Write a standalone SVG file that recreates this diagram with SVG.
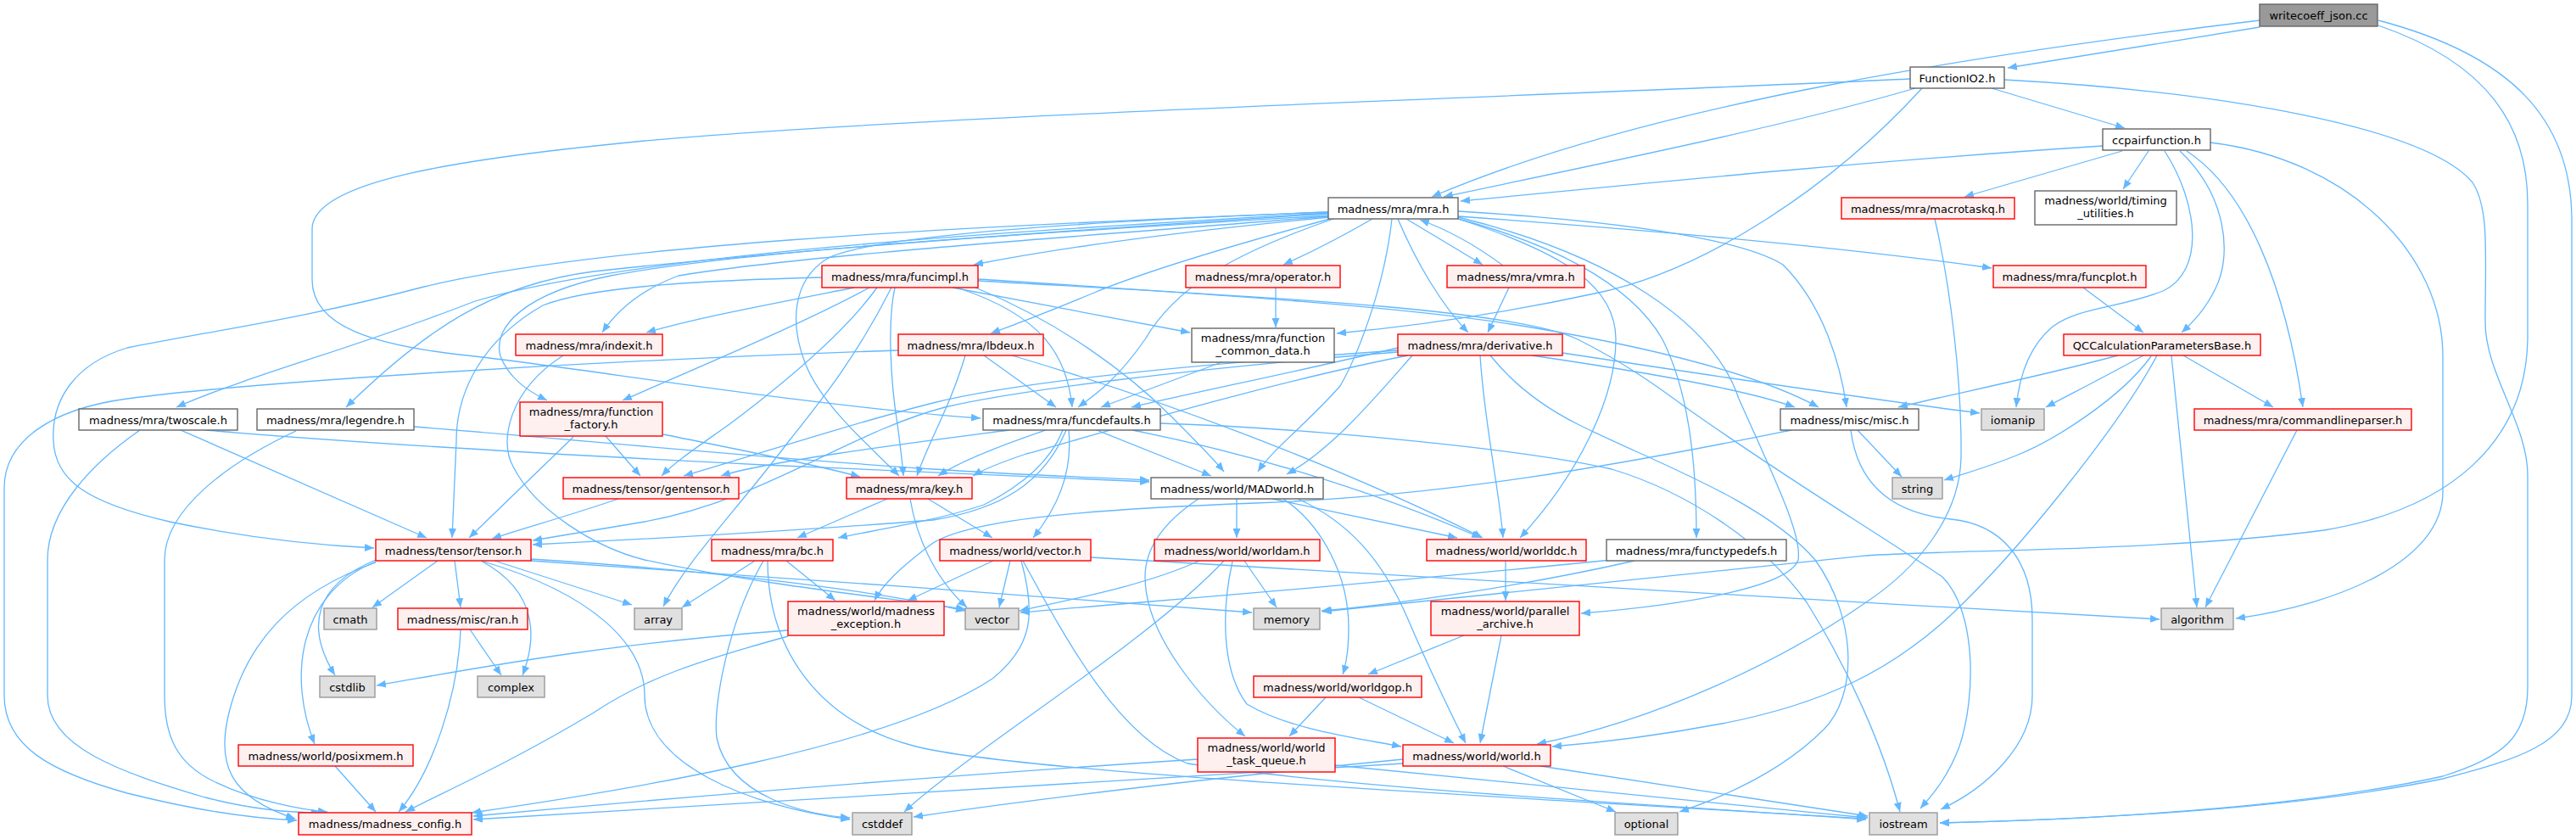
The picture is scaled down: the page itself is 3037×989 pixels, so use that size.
<svg xmlns="http://www.w3.org/2000/svg" width="3037" height="989" viewBox="0 0 3037 989">
<style>
.e{fill:none;stroke:#63b8ff;stroke-width:1.3;marker-end:url(#a)}
rect{stroke-width:1.4}
text{font-family:"DejaVu Sans",sans-serif;font-size:13px;text-anchor:middle;fill:#000}
.r rect{fill:#fff0f0;stroke:#ff0000}
.w rect{fill:#ffffff;stroke:#666666}
.g rect{fill:#e0e0e0;stroke:#999999}
.root rect{fill:#999999;stroke:#666666}
</style>
<defs>
<marker id="a" markerUnits="userSpaceOnUse" markerWidth="12" markerHeight="9" refX="11" refY="4.5" orient="auto"><path d="M0,0 L11,4.5 L0,9 z" fill="#63b8ff"/></marker>
</defs>
<rect x="0" y="0" width="3037" height="989" fill="#ffffff" stroke="none"/>
<g id="edges">
<path class="e" d="M2664,24 C2350,62 1950,120 1688,232"/>
<path class="e" d="M2664,32 L2367,80"/>
<path class="e" d="M2804,30 C2935,75 2980,150 2980,240 L2980,400 C2978,520 2890,600 2740,625 C2550,650 2300,648 2200,655 C1950,680 1700,708 1559,721"/>
<path class="e" d="M2804,24 C2960,65 3032,140 3032,260 L3032,820 C3032,875 2970,895 2880,918 C2700,955 2450,966 2287,970"/>
<path class="e" d="M2258,104 C2100,150 1900,190 1702,232"/>
<path class="e" d="M2252,93 C1900,110 1100,135 760,166 C530,188 368,215 368,270 L368,330 C368,385 440,408 560,420 C700,436 950,478 1156,493"/>
<path class="e" d="M2266,104 C2160,220 2010,320 1880,346 C1760,372 1660,385 1576,393"/>
<path class="e" d="M2348,104 L2505,151"/>
<path class="e" d="M2363,94 C2620,108 2860,150 2915,215 C2935,245 2930,300 2930,380 C2930,440 2980,500 2980,560 L2980,810 C2980,870 2950,893 2880,915 C2700,955 2450,966 2287,970"/>
<path class="e" d="M2479,172 C2200,190 1950,215 1722,237"/>
<path class="e" d="M2502,178 L2316,232"/>
<path class="e" d="M2533,178 L2503,223"/>
<path class="e" d="M2552,178 C2592,240 2600,320 2550,343 C2500,363 2450,362 2420,385 C2390,410 2380,450 2377,480"/>
<path class="e" d="M2570,178 C2625,230 2632,300 2612,340 C2600,365 2585,380 2572,392"/>
<path class="e" d="M2578,178 C2650,225 2695,340 2715,480"/>
<path class="e" d="M2606,168 C2770,188 2880,300 2880,420 L2880,580 C2880,660 2760,712 2636,729"/>
<path class="e" d="M2281,258 C2300,340 2313,450 2312,540 C2310,610 2260,670 2200,710 C2100,780 1950,850 1812,877"/>
<path class="e" d="M1568,256 C1400,272 1250,292 1148,312"/>
<path class="e" d="M1618,258 C1580,280 1540,300 1513,312"/>
<path class="e" d="M1658,258 L1748,312"/>
<path class="e" d="M1772,313 C1745,293 1710,272 1674,259"/>
<path class="e" d="M1648,258 C1670,310 1700,360 1731,392"/>
<path class="e" d="M1719,249 C1900,260 2050,280 2102,312 C2150,360 2170,430 2177,480"/>
<path class="e" d="M1719,255 C2000,275 2200,295 2348,316"/>
<path class="e" d="M1568,258 C1450,290 1350,320 1290,345 C1230,370 1190,385 1168,393"/>
<path class="e" d="M1572,258 C1450,300 1385,340 1350,400 C1315,450 1290,466 1271,480"/>
<path class="e" d="M1641,258 C1632,340 1600,420 1580,455 C1540,500 1500,530 1483,556"/>
<path class="e" d="M1719,258 C1850,300 1905,340 1905,400 C1905,470 1860,560 1792,634"/>
<path class="e" d="M1719,258 C1820,285 1920,330 1960,400 C1990,460 2000,540 2000,634"/>
<path class="e" d="M1719,256 C1900,300 2020,380 2050,470 C2090,560 2125,630 2120,660 C2110,690 2000,712 1864,723"/>
<path class="e" d="M1566,250 C1100,268 700,290 500,338 C360,375 250,390 150,410 C90,428 60,470 63,520 C65,565 100,592 200,615 C300,636 380,643 441,646"/>
<path class="e" d="M1566,251 C1150,275 750,300 560,355 C420,410 300,440 208,480"/>
<path class="e" d="M1566,252 C1200,275 900,298 700,320 C580,335 500,390 408,480"/>
<path class="e" d="M1566,254 C1200,276 880,295 720,325 C620,345 580,385 590,420 C600,445 620,460 645,472"/>
<path class="e" d="M1566,255 C1300,277 950,300 800,325 C760,340 730,362 710,392"/>
<path class="e" d="M1566,250 C1250,262 1020,280 975,305 C935,330 930,380 950,430 C970,480 1030,530 1060,561"/>
<path class="e" d="M969,327 C850,330 700,336 640,360 C570,400 538,460 538,520 L533,634"/>
<path class="e" d="M1007,339 C900,360 820,375 762,392"/>
<path class="e" d="M1025,339 C950,380 830,430 734,472"/>
<path class="e" d="M1034,339 C990,400 900,470 860,500 C825,525 795,545 780,561"/>
<path class="e" d="M1051,339 C1010,420 970,470 930,520 C870,600 810,660 782,715"/>
<path class="e" d="M1055,339 C1046,380 1050,450 1058,500 C1062,530 1064,545 1065,561"/>
<path class="e" d="M1123,339 L1403,392"/>
<path class="e" d="M1128,339 C1230,372 1258,420 1264,480"/>
<path class="e" d="M1150,339 C1250,380 1330,440 1380,490 C1410,520 1430,540 1443,556"/>
<path class="e" d="M1153,329 C1400,345 1650,360 1800,385 C1950,410 2070,440 2144,480"/>
<path class="e" d="M1153,331 C1450,348 1780,362 1860,400 C1920,430 1960,460 1990,482 C2100,560 2200,620 2290,680 C2330,720 2330,820 2310,880 C2295,920 2275,940 2264,953"/>
<path class="e" d="M1059,413 C700,425 300,450 150,470 C60,482 5,520 5,575 L5,820 C5,880 60,910 150,935 C230,955 300,965 350,967"/>
<path class="e" d="M1138,419 C1120,480 1095,520 1081,561"/>
<path class="e" d="M1160,419 L1245,480"/>
<path class="e" d="M1193,419 C1400,480 1600,560 1748,634"/>
<path class="e" d="M1440,427 L1298,480"/>
<path class="e" d="M1504,339 L1504,386"/>
<path class="e" d="M1779,339 L1754,392"/>
<path class="e" d="M2456,339 L2527,392"/>
<path class="e" d="M1648,410 C1520,440 1420,460 1334,480"/>
<path class="e" d="M1660,419 C1500,450 1300,510 1210,535 C1180,545 1160,553 1147,561"/>
<path class="e" d="M1648,413 C1400,430 1200,450 1100,475 C1000,500 880,540 806,561"/>
<path class="e" d="M1648,415 C1400,435 1200,460 1114,480 C1000,510 900,590 760,615 C700,625 660,632 628,637"/>
<path class="e" d="M1665,419 C1620,470 1570,530 1517,559"/>
<path class="e" d="M1745,419 C1750,500 1768,580 1772,634"/>
<path class="e" d="M1757,419 C1790,460 1830,485 1860,500 C1950,545 2080,590 2140,660 C2190,730 2190,820 2150,860 C2100,910 2030,940 1980,957"/>
<path class="e" d="M1806,419 C1950,440 2060,460 2116,480"/>
<path class="e" d="M1842,416 C2000,440 2200,470 2334,487"/>
<path class="e" d="M1190,507 C1050,525 900,545 850,561"/>
<path class="e" d="M1233,507 C1180,525 1130,545 1106,561"/>
<path class="e" d="M1293,507 L1428,561"/>
<path class="e" d="M1253,507 C1240,540 1210,570 1160,595 C1100,615 1030,625 988,634"/>
<path class="e" d="M1260,507 C1265,560 1245,600 1218,634"/>
<path class="e" d="M1257,507 C1230,570 1180,600 1100,613 C950,625 750,636 628,642"/>
<path class="e" d="M1335,507 C1450,530 1600,570 1746,634"/>
<path class="e" d="M1368,499 C1550,505 1800,530 1900,553 C1990,580 2080,640 2130,710 C2180,790 2220,880 2240,957"/>
<path class="e" d="M729,588 C680,605 620,622 580,635"/>
<path class="e" d="M1046,588 L940,634"/>
<path class="e" d="M1073,588 C1080,630 1100,680 1140,716"/>
<path class="e" d="M1094,588 L1170,634"/>
<path class="e" d="M676,515 L553,634"/>
<path class="e" d="M714,514 L755,561"/>
<path class="e" d="M782,512 C870,530 950,545 1014,562"/>
<path class="e" d="M165,507 C110,545 56,600 56,660 L56,820 C56,880 140,910 242,940 C300,955 350,958 378,958"/>
<path class="e" d="M213,507 L503,634"/>
<path class="e" d="M242,507 C450,525 700,538 900,548 C1100,557 1250,563 1355,568"/>
<path class="e" d="M349,508 C270,545 194,600 194,660 L194,820 C194,870 210,900 250,920 C300,945 360,955 386,957"/>
<path class="e" d="M488,503 C700,520 900,540 1100,553 C1200,560 1300,563 1355,566"/>
<path class="e" d="M516,661 L439,716"/>
<path class="e" d="M536,661 L543,716"/>
<path class="e" d="M567,661 C640,700 630,760 616,796"/>
<path class="e" d="M443,660 C370,690 360,740 395,796"/>
<path class="e" d="M443,662 C350,700 340,800 371,877"/>
<path class="e" d="M443,663 C340,700 290,760 270,840 C255,900 270,940 348,965"/>
<path class="e" d="M583,661 L745,713"/>
<path class="e" d="M626,659 C800,670 1000,690 1138,720"/>
<path class="e" d="M626,661 C900,680 1200,700 1476,722"/>
<path class="e" d="M567,661 C700,700 760,760 760,820 C760,900 880,950 1002,966"/>
<path class="e" d="M543,742 C540,820 510,910 470,957"/>
<path class="e" d="M554,742 L591,796"/>
<path class="e" d="M395,903 L443,957"/>
<path class="e" d="M890,661 L804,716"/>
<path class="e" d="M900,661 C860,730 840,830 845,870 C860,940 950,960 1002,964"/>
<path class="e" d="M927,661 L985,708"/>
<path class="e" d="M905,661 C905,760 960,850 1080,880 C1200,910 1700,935 2200,965"/>
<path class="e" d="M929,743 C700,760 550,790 444,808"/>
<path class="e" d="M929,750 C820,780 760,800 700,840 C600,900 520,935 478,957"/>
<path class="e" d="M1171,661 L1070,708"/>
<path class="e" d="M1191,661 L1178,716"/>
<path class="e" d="M1204,661 C1220,720 1220,760 1170,800 C1050,880 750,930 556,958"/>
<path class="e" d="M1206,661 C1260,760 1320,870 1400,900 C1600,930 1900,945 2200,966"/>
<path class="e" d="M1286,657 C1600,675 2100,705 2546,730"/>
<path class="e" d="M1414,661 C1350,690 1270,705 1202,720"/>
<path class="e" d="M1443,661 C1350,760 1150,880 1066,957"/>
<path class="e" d="M1467,661 L1505,716"/>
<path class="e" d="M1453,662 C1440,720 1440,790 1470,830 C1520,860 1600,870 1652,880"/>
<path class="e" d="M1500,588 L1718,634"/>
<path class="e" d="M1458,588 L1458,634"/>
<path class="e" d="M1413,588 C1380,610 1350,640 1350,680 C1350,750 1420,830 1468,868"/>
<path class="e" d="M1513,588 C1560,620 1590,680 1590,740 C1590,760 1588,780 1583,795"/>
<path class="e" d="M1530,588 C1590,615 1630,660 1660,730 C1690,800 1715,850 1728,876"/>
<path class="e" d="M1775,661 L1775,708"/>
<path class="e" d="M1726,749 L1613,795"/>
<path class="e" d="M1770,749 L1745,876"/>
<path class="e" d="M1927,661 C1800,690 1650,712 1558,720"/>
<path class="e" d="M1900,660 C1600,690 1400,705 1203,722"/>
<path class="e" d="M2112,507 C1900,550 1700,585 1480,593 C1300,600 1150,610 1100,640 C1060,670 1040,690 1031,708"/>
<path class="e" d="M2190,507 L2242,562"/>
<path class="e" d="M2182,507 C2190,570 2230,605 2300,612 C2360,618 2396,660 2396,730 L2396,820 C2396,880 2340,930 2288,954"/>
<path class="e" d="M1412,895 C1100,915 800,940 558,962"/>
<path class="e" d="M1574,902 C1800,925 2000,945 2202,964"/>
<path class="e" d="M1654,900 C1200,925 800,950 558,966"/>
<path class="e" d="M1654,895 C1400,920 1200,945 1077,963"/>
<path class="e" d="M1772,903 L1905,957"/>
<path class="e" d="M1816,903 L2202,962"/>
<path class="e" d="M1563,822 L1520,868"/>
<path class="e" d="M1602,822 L1714,876"/>
<path class="e" d="M2497,419 C2400,445 2300,465 2238,480"/>
<path class="e" d="M2527,419 C2480,445 2440,465 2412,480"/>
<path class="e" d="M2536,420 C2500,470 2420,520 2377,537 C2340,552 2310,560 2292,566"/>
<path class="e" d="M2543,419 C2500,500 2380,650 2300,725 C2230,790 2150,830 2030,853 C1950,868 1880,876 1830,880"/>
<path class="e" d="M2560,419 L2590,716"/>
<path class="e" d="M2574,419 L2680,480"/>
<path class="e" d="M2708,507 L2600,716"/>
<path class="e" d="M664,419 C600,460 588,520 605,550 C630,600 700,645 760,660 C900,690 1050,705 1138,718"/>
</g>
<g id="n1" class="root"><rect x="2664" y="5" width="139" height="26"/><text x="2733.5" y="22.5">writecoeff_json.cc</text></g>
<g id="n2" class="w"><rect x="2252" y="79" width="111" height="25"/><text x="2307.5" y="96.5">FunctionIO2.h</text></g>
<g id="n3" class="w"><rect x="2479" y="152" width="127" height="25"/><text x="2542.5" y="169.5">ccpairfunction.h</text></g>
<g id="n4" class="w"><rect x="1566" y="233" width="153" height="25"/><text x="1642.5" y="250.5">madness/mra/mra.h</text></g>
<g id="n5" class="r"><rect x="2171" y="233" width="204" height="25"/><text x="2273" y="250.5">madness/mra/macrotaskq.h</text></g>
<g id="n6" class="w"><rect x="2399" y="225" width="167" height="40"/><text x="2482.5" y="241">madness/world/timing</text><text x="2482.5" y="256">_utilities.h</text></g>
<g id="n7" class="r"><rect x="969" y="313" width="184" height="26"/><text x="1061" y="330.5">madness/mra/funcimpl.h</text></g>
<g id="n8" class="r"><rect x="1398" y="313" width="182" height="26"/><text x="1489" y="330.5">madness/mra/operator.h</text></g>
<g id="n9" class="r"><rect x="1706" y="313" width="162" height="26"/><text x="1787" y="330.5">madness/mra/vmra.h</text></g>
<g id="n10" class="r"><rect x="2350" y="313" width="180" height="26"/><text x="2440" y="330.5">madness/mra/funcplot.h</text></g>
<g id="n11" class="r"><rect x="608" y="394" width="173" height="25"/><text x="694.5" y="411.5">madness/mra/indexit.h</text></g>
<g id="n12" class="r"><rect x="1059" y="394" width="171" height="25"/><text x="1144.5" y="411.5">madness/mra/lbdeux.h</text></g>
<g id="n13" class="w"><rect x="1405" y="387" width="168" height="40"/><text x="1489" y="403">madness/mra/function</text><text x="1489" y="418">_common_data.h</text></g>
<g id="n14" class="r"><rect x="1648" y="394" width="194" height="25"/><text x="1745" y="411.5">madness/mra/derivative.h</text></g>
<g id="n15" class="r"><rect x="2433" y="394" width="232" height="25"/><text x="2549" y="411.5">QCCalculationParametersBase.h</text></g>
<g id="n16" class="w"><rect x="93" y="482" width="187" height="25"/><text x="186.5" y="499.5">madness/mra/twoscale.h</text></g>
<g id="n17" class="w"><rect x="303" y="482" width="185" height="25"/><text x="395.5" y="499.5">madness/mra/legendre.h</text></g>
<g id="n18" class="r"><rect x="613" y="474" width="168" height="40"/><text x="697" y="490">madness/mra/function</text><text x="697" y="505">_factory.h</text></g>
<g id="n19" class="w"><rect x="1159" y="482" width="209" height="25"/><text x="1263.5" y="499.5">madness/mra/funcdefaults.h</text></g>
<g id="n20" class="w"><rect x="2099" y="482" width="163" height="25"/><text x="2180.5" y="499.5">madness/misc/misc.h</text></g>
<g id="n21" class="g"><rect x="2336" y="482" width="74" height="25"/><text x="2373" y="499.5">iomanip</text></g>
<g id="n22" class="r"><rect x="2587" y="482" width="256" height="25"/><text x="2715" y="499.5">madness/mra/commandlineparser.h</text></g>
<g id="n23" class="r"><rect x="664" y="563" width="207" height="25"/><text x="767.5" y="580.5">madness/tensor/gentensor.h</text></g>
<g id="n24" class="r"><rect x="998" y="563" width="148" height="25"/><text x="1072" y="580.5">madness/mra/key.h</text></g>
<g id="n25" class="w"><rect x="1357" y="563" width="203" height="25"/><text x="1458.5" y="580.5">madness/world/MADworld.h</text></g>
<g id="n26" class="g"><rect x="2231" y="563" width="59" height="25"/><text x="2260.5" y="580.5">string</text></g>
<g id="n27" class="r"><rect x="443" y="636" width="183" height="25"/><text x="534.5" y="653.5">madness/tensor/tensor.h</text></g>
<g id="n28" class="r"><rect x="839" y="636" width="143" height="25"/><text x="910.5" y="653.5">madness/mra/bc.h</text></g>
<g id="n29" class="r"><rect x="1108" y="636" width="178" height="25"/><text x="1197" y="653.5">madness/world/vector.h</text></g>
<g id="n30" class="r"><rect x="1361" y="636" width="195" height="25"/><text x="1458.5" y="653.5">madness/world/worldam.h</text></g>
<g id="n31" class="r"><rect x="1682" y="636" width="188" height="25"/><text x="1776" y="653.5">madness/world/worlddc.h</text></g>
<g id="n32" class="w"><rect x="1894" y="636" width="212" height="25"/><text x="2000" y="653.5">madness/mra/functypedefs.h</text></g>
<g id="n33" class="g"><rect x="382" y="717" width="62" height="25"/><text x="413" y="734.5">cmath</text></g>
<g id="n34" class="r"><rect x="469" y="717" width="153" height="25"/><text x="545.5" y="734.5">madness/misc/ran.h</text></g>
<g id="n35" class="g"><rect x="748" y="717" width="56" height="25"/><text x="776" y="734.5">array</text></g>
<g id="n36" class="r"><rect x="929" y="709" width="184" height="40"/><text x="1021" y="725">madness/world/madness</text><text x="1021" y="740">_exception.h</text></g>
<g id="n37" class="g"><rect x="1138" y="717" width="63" height="25"/><text x="1169.5" y="734.5">vector</text></g>
<g id="n38" class="g"><rect x="1478" y="717" width="78" height="25"/><text x="1517" y="734.5">memory</text></g>
<g id="n39" class="r"><rect x="1687" y="709" width="175" height="40"/><text x="1774.5" y="725">madness/world/parallel</text><text x="1774.5" y="740">_archive.h</text></g>
<g id="n40" class="g"><rect x="2548" y="717" width="85" height="25"/><text x="2590.5" y="734.5">algorithm</text></g>
<g id="n41" class="g"><rect x="377" y="797" width="65" height="25"/><text x="409.5" y="814.5">cstdlib</text></g>
<g id="n42" class="g"><rect x="563" y="797" width="79" height="25"/><text x="602.5" y="814.5">complex</text></g>
<g id="n43" class="r"><rect x="1478" y="797" width="198" height="25"/><text x="1577" y="814.5">madness/world/worldgop.h</text></g>
<g id="n44" class="r"><rect x="281" y="878" width="206" height="25"/><text x="384" y="895.5">madness/world/posixmem.h</text></g>
<g id="n45" class="r"><rect x="1412" y="870" width="162" height="40"/><text x="1493" y="886">madness/world/world</text><text x="1493" y="901">_task_queue.h</text></g>
<g id="n46" class="r"><rect x="1654" y="878" width="174" height="25"/><text x="1741" y="895.5">madness/world/world.h</text></g>
<g id="n47" class="r"><rect x="352" y="958" width="204" height="26"/><text x="454" y="975.5">madness/madness_config.h</text></g>
<g id="n48" class="g"><rect x="1005" y="958" width="70" height="26"/><text x="1040" y="975.5">cstddef</text></g>
<g id="n49" class="g"><rect x="1904" y="958" width="74" height="26"/><text x="1941" y="975.5">optional</text></g>
<g id="n50" class="g"><rect x="2204" y="958" width="80" height="26"/><text x="2244" y="975.5">iostream</text></g>
</svg>
